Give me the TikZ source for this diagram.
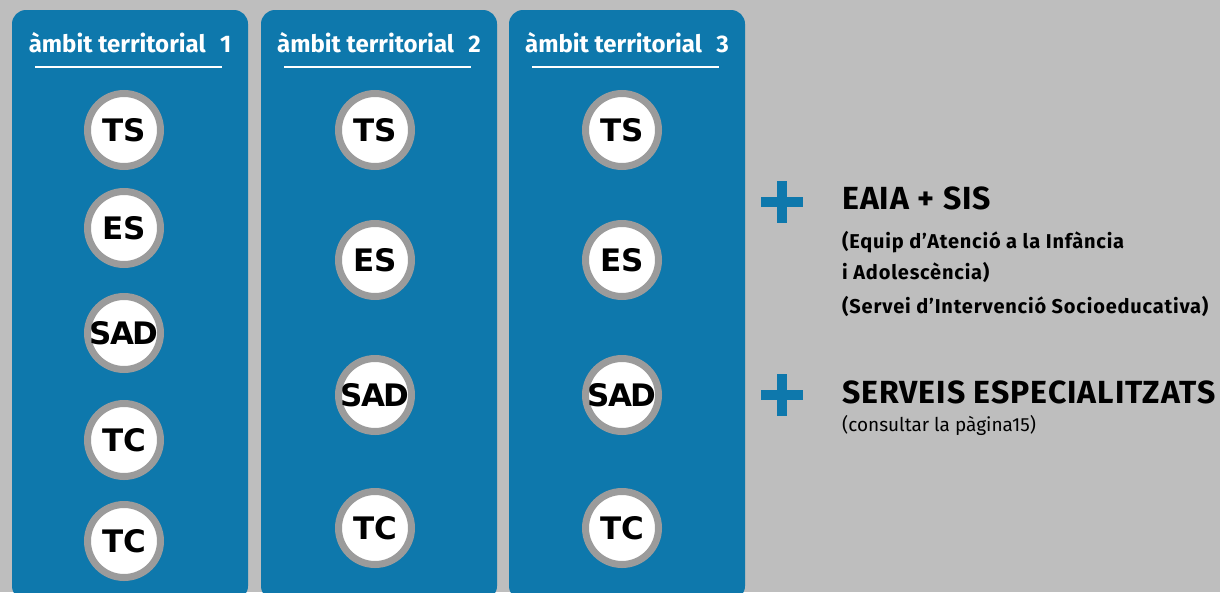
\documentclass[tikz,border=0pt]{standalone}
\usepackage{fontspec}
\setmainfont{Fira Sans}
\newfontfamily\circfont{DejaVu Sans}
\usetikzlibrary{positioning}
\definecolor{panelblue}{RGB}{14,120,172}
\definecolor{bggray}{RGB}{190,190,190}
\definecolor{ringgray}{RGB}{155,155,155}
\tikzset{
  svc/.style={circle, draw=ringgray, line width=7pt, fill=white, minimum size=73pt,
    inner sep=0pt, font=\circfont\fontsize{31}{31}\selectfont\bfseries},
  ambit/.style={text=white, inner sep=0pt, font=\fontsize{24}{26}\selectfont\bfseries},
  plusbar/.style={panelblue, line width=10pt},
  bigtxt/.style={anchor=base west, inner sep=0pt,
    font=\fontsize{32}{34}\selectfont\bfseries\addfontfeature{LetterSpace=3}},
  smalltxt/.style={anchor=base west, inner sep=0pt,
    font=\fontsize{20}{22}\selectfont\bfseries\addfontfeature{LetterSpace=4}},
  notetxt/.style={anchor=base west, inner sep=0pt, font=\fontsize{19}{21}\selectfont}
}
\newcommand{\tight}[1]{{\addfontfeature{LetterSpace=-6}#1}}

\begin{document}
\begin{tikzpicture}[x=1pt, y=-1pt]
\useasboundingbox (0,0) rectangle (1220,592);
\fill[bggray] (0,0) rectangle (1220,592);

% Panels with header
\foreach \i/\x in {1/12, 2/261, 3/509} {
    \fill[panelblue, rounded corners=14pt] (\x,10) rectangle ++(236,590);
    \node[ambit] (head\i) at (\x+118,43) {àmbit territorial\hspace{0.6em}\i};
    \draw[white, line width=2pt] (\x+23,67) -- (\x+210,67);
}

% Ambit 1
\foreach \lab/\y [count=\k] in {TS/130, ES/228, \tight{SAD}/333, TC/440, TC/541}
    \node[svc] (amb1s\k) at (124,\y) {\lab};

% Ambits 2 and 3
\foreach \lab/\y [count=\k] in {TS/130, ES/260, \tight{SAD}/395, TC/528} {
    \node[svc] (amb2s\k) at (375,\y) {\lab};
    \node[svc] (amb3s\k) at (622,\y) {\lab};
}

% Extra services
\draw[plusbar] (761,202) -- (803,202) (782,181) -- (782,223);
\draw[plusbar] (761,395) -- (803,395) (782,374) -- (782,416);
\node[bigtxt] (eaia) at (842,209) {EAIA + SIS};
\node[smalltxt] (eaiaA) at (842,248) {(Equip d’Atenció a la Infància};
\node[smalltxt] (eaiaB) at (842,279) {i Adolescència)};
\node[smalltxt] (sis) at (842,313) {(Servei d’Intervenció Socioeducativa)};
\node[bigtxt] (espec) at (842,403) {SERVEIS ESPECIALITZATS};
\node[notetxt] (espnote) at (842,431) {(consultar la pàgina15)};
\end{tikzpicture}
\end{document}
